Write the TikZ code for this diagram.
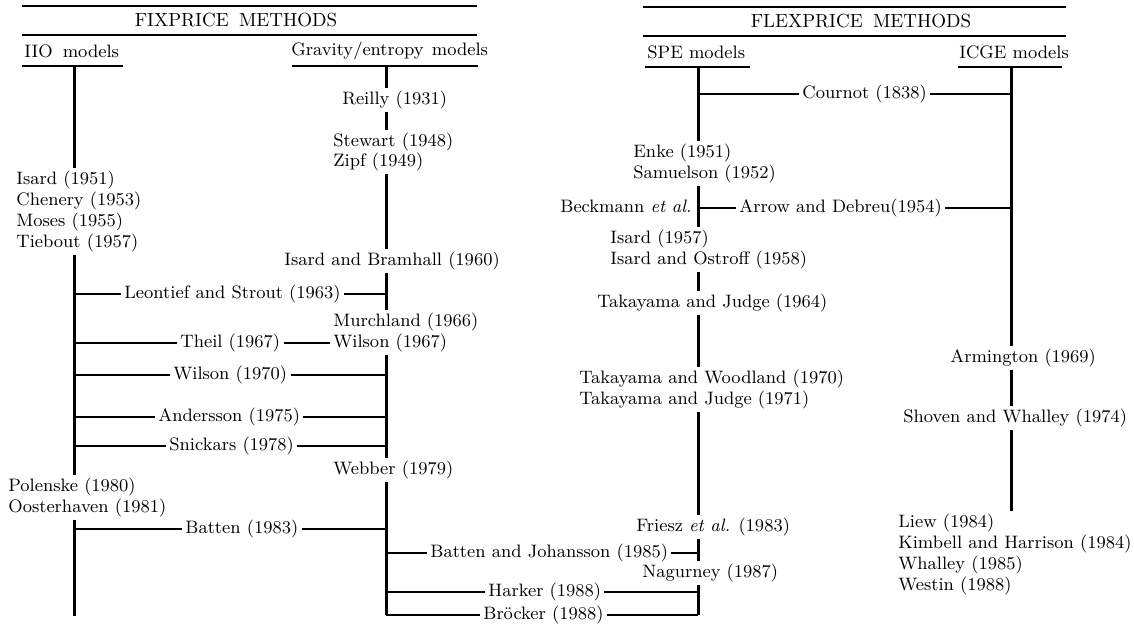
\documentclass[tikz,border=0pt]{standalone}
\usepackage{fontspec}
\begin{document}
\begin{tikzpicture}[x=0.5pt,y=-0.5pt,
  lab/.style={inner xsep=1.5pt, inner ysep=1.5pt, text height=6.3pt, text depth=2.2pt, anchor=west, font=\fontsize{9}{10.5}\selectfont},
  head/.style={inner sep=0pt, font=\fontsize{9.5}{11}\selectfont},
  subhead/.style={inner sep=0pt, anchor=west, font=\fontsize{9}{11}\selectfont},
  vline/.style={line width=1.5pt},
  hline/.style={line width=0.55pt},
  rule/.style={line width=1pt}]
\useasboundingbox (0,0) rectangle (1134,627);

% ---------- headers ----------
\draw[rule] (22,6) -- (477,6);
\draw[rule] (22,35) -- (477,35);
\node[head] (fix) at (236,20) {FIXPRICE\hspace{2pt} METHODS};
\draw[rule] (643,7) -- (1066,7);
\draw[rule] (643,36) -- (1066,36);
\node[head] (flex) at (861,21) {FLEXPRICE\hspace{2pt} METHODS};

\node[subhead] (iioh) at (24,51) {IIO\hspace{2pt} models};
\node[subhead] (gravh) at (291,51) {Gravity/entropy\hspace{1pt} models};
\node[subhead] (speh) at (647,52) {SPE models};
\node[subhead] (icgeh) at (959,52) {ICGE models};
\draw[rule] (22,66) -- (123,66);
\draw[rule] (292,66) -- (478,66);
\draw[rule] (645,67) -- (750,67);
\draw[rule] (958,67) -- (1062,67);

% ---------- column anchors ----------
\coordinate (iio) at (74,66);
\coordinate (grav) at (386,66);
\coordinate (spe) at (698,67);
\coordinate (icge) at (1011,67);
\coordinate (iioB) at (74,616);

% ---------- IIO column ----------
\node[lab] (isard51) at (13,180) {Isard (1951)};
\node[lab] (chenery) at (13,201) {Chenery (1953)};
\node[lab] (moses) at (13,222) {Moses (1955)};
\node[lab] (tiebout) at (13,243) {Tiebout (1957)};
\node[lab] (polenske) at (5,487) {Polenske (1980)};
\node[lab] (oost) at (5,508) {Oosterhaven (1981)};

% ---------- gravity column ----------
\node[lab] (reilly) at (339,100) {Reilly (1931)};
\node[lab] (stewart) at (330,142) {Stewart (1948)};
\node[lab] (zipf) at (330,162) {Zipf (1949)};
\node[lab] (bramhall) at (281,261) {Isard and Bramhall (1960)};
\node[lab] (murch) at (330,322) {Murchland (1966)};
\node[lab] (wil67) at (330,343) {Wilson (1967)};
\node[lab] (webber) at (330,470) {Webber (1979)};

% ---------- IIO--gravity links ----------
\node[lab] (leon) at (121,294) {Leontief and Strout (1963)};
\node[lab] (theil) at (177,343) {Theil (1967)};
\node[lab] (wil70) at (170,375) {Wilson (1970)};
\node[lab] (anders) at (155,417) {Andersson (1975)};
\node[lab] (snick) at (166,446) {Snickars (1978)};
\node[lab] (batten) at (182,529) {Batten (1983)};

% ---------- SPE column ----------
\node[lab] (enke) at (630,153) {Enke (1951)};
\node[lab] (samuel) at (630,174) {Samuelson (1952)};
\node[lab] (beck) at (557,208) {Beckmann \textit{et al.}};
\node[lab] (isard57) at (607,239) {Isard (1957)};
\node[lab] (ostroff) at (607,260) {Isard and Ostroff (1958)};
\node[lab] (tj64) at (594,303) {Takayama and Judge (1964)};
\node[lab] (woodland) at (576,379) {Takayama and Woodland (1970)};
\node[lab] (tj71) at (576,400) {Takayama and Judge (1971)};
\node[lab] (friesz) at (633,527) {Friesz \textit{et al.} (1983)};
\node[lab] (nagurney) at (639,573) {Nagurney (1987)};
\coordinate (gravB) at (386,615);
\coordinate (speB) at (698,615);

% ---------- gravity--SPE links ----------
\node[lab] (bj) at (427,553) {Batten and Johansson (1985)};
\node[lab] (harker) at (485,592) {Harker (1988)};
\node[lab] (brocker) at (480,615) {Bröcker (1988)};

% ---------- SPE--ICGE links ----------
\node[lab] (cournot) at (799,94) {Cournot (1838)};
\node[lab] (arrow) at (736,208) {Arrow and Debreu(1954)};

% ---------- ICGE column ----------
\node[lab] (arm) at (947,358) {Armington (1969)};
\node[lab] (shoven) at (900,418) {Shoven and Whalley (1974)};
\node[lab] (liew) at (895,523) {Liew (1984)};
\node[lab] (kimbell) at (895,544) {Kimbell and Harrison (1984)};
\node[lab] (whalley) at (895,565) {Whalley (1985)};
\node[lab] (westin) at (895,586) {Westin (1988)};

% ---------- vertical lines ----------
\draw[vline] (iio) -- (iio |- isard51.north);
\draw[vline] (iio |- tiebout.south) -- (iio |- polenske.north);
\draw[vline] (iio |- oost.south) -- (iioB);

\draw[vline] (grav) -- (grav |- reilly.north);
\draw[vline] (grav |- reilly.south) -- (grav |- stewart.north);
\draw[vline] (grav |- zipf.south) -- (grav |- bramhall.north);
\draw[vline] (grav |- bramhall.south) -- (grav |- murch.north);
\draw[vline] (grav |- wil67.south) -- (grav |- webber.north);
\draw[vline] (grav |- webber.south) -- (gravB);

\draw[vline] (spe) -- (spe |- enke.north);
\draw[vline] (spe |- samuel.south) -- (spe |- isard57.north);
\draw[vline] (spe |- ostroff.south) -- (spe |- tj64.north);
\draw[vline] (spe |- tj64.south) -- (spe |- woodland.north);
\draw[vline] (spe |- tj71.south) -- (spe |- friesz.north);
\draw[vline] (spe |- friesz.south) -- (spe |- nagurney.north);
\draw[vline] (spe |- nagurney.south) -- (speB);

\draw[vline] (icge) -- (icge |- arm.north);
\draw[vline] (icge |- arm.south) -- (icge |- shoven.north);
\draw[vline] (icge |- shoven.south) -- (icge |- liew.north);

% ---------- horizontal links ----------
\foreach \n in {leon,wil70,anders,snick,batten}{
  \draw[hline] (iio |- \n.west) -- (\n.west);
  \draw[hline] (\n.east) -- (grav |- \n.east);
}
\draw[hline] (iio |- theil.west) -- (theil.west);
\draw[hline] (theil.east) -- (wil67.west);

\foreach \n in {bj,harker}{
  \draw[hline] (grav |- \n.west) -- (\n.west);
  \draw[hline] (\n.east) -- (spe |- \n.east);
}
\draw[hline] (gravB) -- (brocker.west);
\draw[hline] (brocker.east) -- (speB);

\foreach \n in {cournot,arrow}{
  \draw[hline] (spe |- \n.west) -- (\n.west);
  \draw[hline] (\n.east) -- (icge |- \n.east);
}
\end{tikzpicture}
\end{document}
